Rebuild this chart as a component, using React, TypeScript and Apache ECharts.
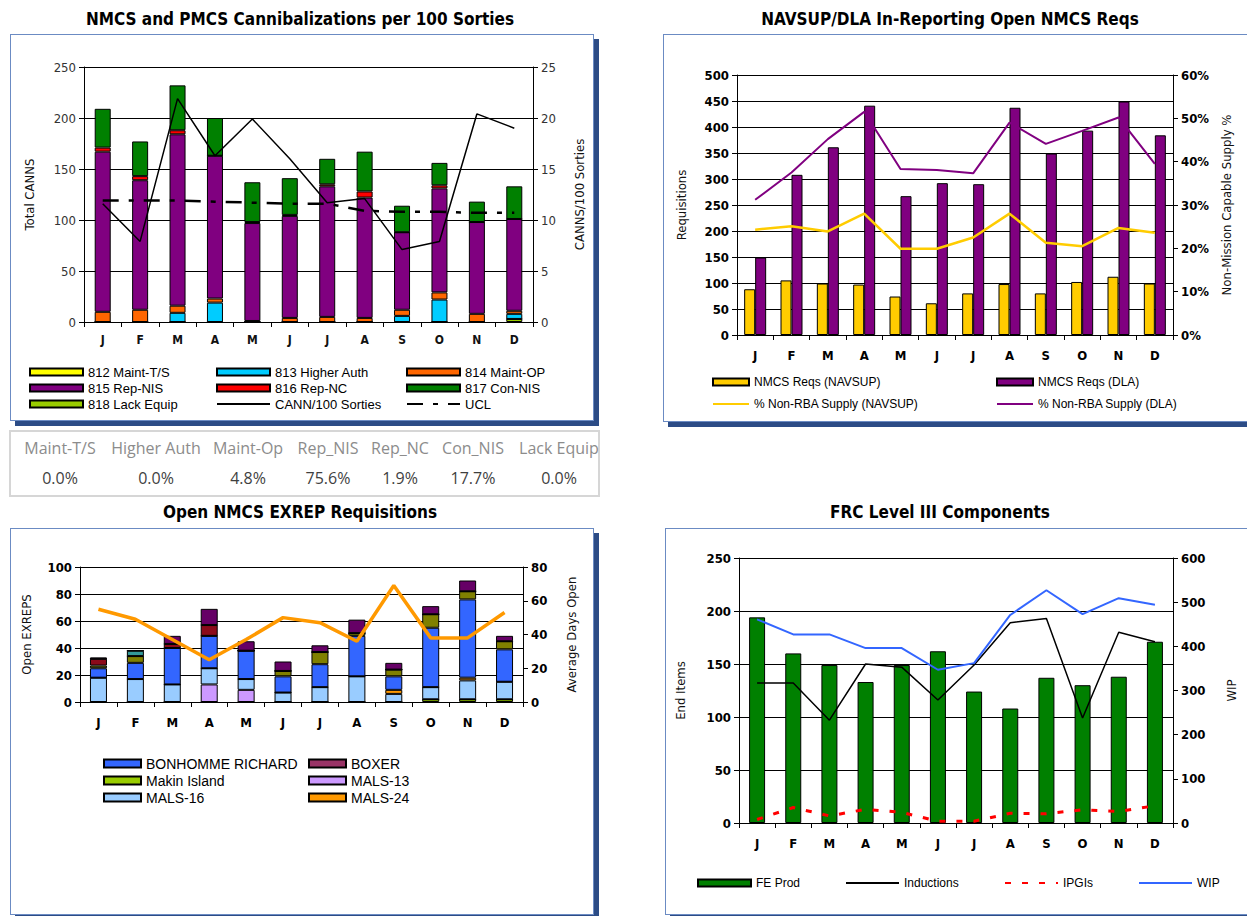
import React, { useEffect, useRef } from 'react';
import * as echarts from 'echarts';

// ---------- shared categories ----------
const months = ['Jan', 'Feb', 'Mar', 'Apr', 'May', 'Jun', 'Jul', 'Aug', 'Sep', 'Oct', 'Nov', 'Dec'];

// ---------- Chart 1: NMCS and PMCS Cannibalizations ----------
const c1LackEquip = [0, 0, 0, 0, 0, 0, 0, 0, 0, 0, 0, 3];
const c1MaintTS = [0, 0, 0, 0, 0, 0, 0, 0, 0, 0, 0, 0];
const c1HigherAuth = [0, 0, 9, 19, 0, 0, 0, 0, 6, 22, 0, 5];
const c1MaintOP = [10, 12, 7, 4, 1, 4, 5, 4, 6, 7, 8, 3];
const c1RepNIS = [157, 127, 168, 140, 96, 100, 128, 118, 76, 102, 90, 90];
const c1RepNC = [4, 4, 4, 0, 1, 1, 2, 6, 0, 3, 0, 0];
const c1ConNIS = [38, 34, 44, 37, 39, 36, 25, 39, 26, 22, 20, 32];
const c1Rate = [11.6, 7.9, 21.9, 16.3, 19.9, 16.0, 11.7, 12.1, 7.1, 7.9, 20.4, 19.0];
const c1UCL = [11.9, 11.9, 11.9, 11.8, 11.7, 11.6, 11.6, 10.9, 10.8, 10.8, 10.7, 10.7];

// ---------- summary table ----------
const tableHeaders = ['Maint-T/S', 'Higher Auth', 'Maint-Op', 'Rep_NIS', 'Rep_NC', 'Con_NIS', 'Lack Equip'];
const tableValues = ['0.0%', '0.0%', '4.8%', '75.6%', '1.9%', '17.7%', '0.0%'];

// ---------- Chart 2: NAVSUP/DLA ----------
const c2Navsup = [88, 105, 99, 97, 74, 61, 80, 98, 80, 102, 112, 99];
const c2Dla = [149, 308, 361, 441, 267, 292, 290, 437, 349, 393, 449, 384];
const c2PctNavsup = [24.3, 25.1, 23.9, 28.0, 19.9, 19.9, 22.5, 28.0, 21.3, 20.5, 24.7, 23.6];
const c2PctDla = [31.2, 37.5, 45.2, 51.5, 38.3, 38.1, 37.3, 49.0, 44.1, 47.1, 50.2, 39.5];

// ---------- Chart 3: Open NMCS EXREP ----------
const c3Makin = [0, 0, 0, 0, 0, 0, 0, 0, 0, 2, 2, 2];
const c3Mals13 = [0, 0, 0, 13, 9, 0, 0, 0, 0, 0, 0, 0];
const c3Mals16 = [18, 17, 13, 12, 8, 7, 11, 19, 6, 9, 14, 13];
const c3Mals24 = [0, 0, 0, 0, 0, 0, 0, 0, 3, 0, 2, 0];
const c3Bonhomme = [7, 12, 27, 24, 21, 12, 17, 30, 10, 44, 58, 24];
const c3Mals26 = [2, 5, 0, 0, 0, 4, 9, 2, 5, 10, 6, 6];
const c3Boxer = [5, 0, 3, 8, 0, 0, 0, 0, 0, 0, 0, 0];
const c3Mals29 = [0, 4, 0, 0, 0, 0, 0, 0, 0, 0, 0, 0];
const c3Mals31 = [1, 0, 6, 12, 7, 7, 5, 10, 5, 6, 8, 4];
const c3AvgDays = [55, 49, 37, 25, 37, 50, 47, 36, 69, 38, 38, 53];

// ---------- Chart 4: FRC Level III ----------
const c4FeProd = [194, 160, 149, 133, 149, 162, 124, 108, 137, 130, 138, 171];
const c4Inductions = [132, 132, 97, 150, 147, 116, 149, 189, 193, 99, 180, 171];
const c4Ipgis = [8, 35, 16, 31, 24, 4, 4, 22, 21, 30, 26, 39];
const c4Wip = [461, 427, 427, 396, 396, 347, 362, 471, 527, 473, 509, 494];

const FONT_T = "'DejaVu Sans Condensed', 'DejaVu Sans', sans-serif";
const FONT_A = "'Liberation Sans', Arial, sans-serif";

function catAxis(opts: any = {}) {
  return {
    type: 'category',
    data: months,
    boundaryGap: true,
    axisLine: { show: true, lineStyle: { color: '#000', width: 1 } },
    axisTick: { show: true, length: 5, lineStyle: { color: '#000' } },
    axisLabel: {
      formatter: (v: string) => v.charAt(0),
      fontSize: opts.fontSize ?? 13,
      fontWeight: 'bold',
      color: opts.color ?? '#000',
      fontFamily: FONT_T,
      margin: opts.margin ?? 12,
    },
  };
}

function valAxis(o: any) {
  return {
    type: 'value',
    min: o.min,
    max: o.max,
    interval: o.interval,
    name: o.name,
    nameLocation: 'middle',
    nameGap: o.nameGap,
    nameTextStyle: { fontFamily: FONT_T, fontSize: 13, color: o.nameColor ?? '#111' },
    axisLine: { show: true, lineStyle: { color: '#000', width: 1 } },
    axisTick: { show: true, length: 5, lineStyle: { color: '#000' } },
    axisLabel: {
      fontFamily: FONT_T,
      fontSize: 13,
      fontWeight: o.bold === false ? 'normal' : 'bold',
      color: o.labelColor ?? '#000',
      margin: o.margin ?? 8,
      formatter: o.formatter,
    },
    splitLine: { show: !!o.split, lineStyle: { color: '#000', width: 1 } },
  };
}

function stackBar(name: string, data: number[], color: string, stack: string, width: number) {
  return {
    type: 'bar',
    name,
    data,
    stack,
    barWidth: width,
    itemStyle: { color, borderColor: '#000', borderWidth: 1 },
  };
}

// legend entry for a line series: hide the marker dot, keep the line
function lineItem(name: string) {
  return { name, itemStyle: { opacity: 0 } };
}

function legendCol(left: number, top: number, items: any[], o: any) {
  return {
    orient: 'vertical',
    left,
    top,
    itemWidth: o.w,
    itemHeight: o.h,
    itemGap: o.gap,
    padding: 0,
    selectedMode: false,
    textStyle: { fontFamily: FONT_A, fontSize: o.fs, color: '#000', lineHeight: o.lh },
    data: items,
  };
}

function titleAt(text: string, left: number, top: number) {
  return {
    text,
    left,
    top,
    textAlign: 'center',
    padding: 0,
    textStyle: { fontFamily: FONT_T, fontSize: 17, fontWeight: 'bold', color: '#000' },
  };
}

// ---------------- Chart option builders ----------------
const opt1: any = {
  animation: false,
  title: titleAt('NMCS and PMCS Cannibalizations per 100 Sorties', 300, 10),
  grid: { left: 84, right: 67, top: 67, bottom: 103 },
  xAxis: catAxis({ fontSize: 12, margin: 12, color: '#111' }),
  yAxis: [
    valAxis({ min: 0, max: 250, interval: 50, name: 'Total CANNS', nameGap: 48, split: true, bold: false, labelColor: '#333' }),
    valAxis({ min: 0, max: 25, interval: 5, name: 'CANNS/100 Sorties', nameGap: 40, split: false, bold: false, labelColor: '#333' }),
  ],
  legend: [
    legendCol(29, 365, [
      { name: '812 Maint-T/S', icon: 'rect' },
      { name: '815 Rep-NIS', icon: 'rect' },
      { name: '818 Lack Equip', icon: 'rect' },
    ], { w: 53, h: 7, gap: 2, fs: 13, lh: 14 }),
    legendCol(216, 365, [
      { name: '813 Higher Auth', icon: 'rect' },
      { name: '816 Rep-NC', icon: 'rect' },
      lineItem('CANN/100 Sorties'),
    ], { w: 53, h: 7, gap: 2, fs: 13, lh: 14 }),
    legendCol(406, 365, [
      { name: '814 Maint-OP', icon: 'rect' },
      { name: '817 Con-NIS', icon: 'rect' },
      lineItem('UCL'),
    ], { w: 53, h: 7, gap: 2, fs: 13, lh: 14 }),
  ],
  series: [
    stackBar('818 Lack Equip', c1LackEquip, '#99CC00', 'c', 16),
    stackBar('812 Maint-T/S', c1MaintTS, '#FFFF00', 'c', 16),
    stackBar('813 Higher Auth', c1HigherAuth, '#00CCFF', 'c', 16),
    stackBar('814 Maint-OP', c1MaintOP, '#FF6600', 'c', 16),
    stackBar('815 Rep-NIS', c1RepNIS, '#800080', 'c', 16),
    stackBar('816 Rep-NC', c1RepNC, '#FF0000', 'c', 16),
    stackBar('817 Con-NIS', c1ConNIS, '#008000', 'c', 16),
    {
      type: 'line', name: 'CANN/100 Sorties', yAxisIndex: 1, data: c1Rate, symbol: 'none',
      lineStyle: { color: '#000', width: 1.5 }, itemStyle: { color: '#000' }, z: 5,
    },
    {
      type: 'line', name: 'UCL', yAxisIndex: 1, data: c1UCL, symbol: 'none',
      lineStyle: { color: '#000', width: 2.5, type: [16, 10, 5, 10] }, itemStyle: { color: '#000' }, z: 5,
    },
  ],
};

const opt2: any = {
  animation: false,
  title: titleAt('NAVSUP/DLA In-Reporting Open NMCS Reqs', 310, 10),
  grid: { left: 97, right: 74, top: 75, bottom: 90 },
  xAxis: catAxis({ fontSize: 13, margin: 14 }),
  yAxis: [
    valAxis({ min: 0, max: 500, interval: 50, name: 'Requisitions', nameGap: 49, split: true }),
    valAxis({ min: 0, max: 60, interval: 10, name: 'Non-Mission Capable Supply %', nameGap: 47, split: false, formatter: '{value}%' }),
  ],
  legend: [
    legendCol(72, 376, [
      { name: 'NMCS Reqs (NAVSUP)', icon: 'rect' },
      lineItem('% Non-RBA Supply (NAVSUP)'),
    ], { w: 36, h: 7, gap: 10, fs: 12, lh: 12 }),
    legendCol(356, 376, [
      { name: 'NMCS Reqs (DLA)', icon: 'rect' },
      lineItem('% Non-RBA Supply (DLA)'),
    ], { w: 36, h: 7, gap: 10, fs: 12, lh: 12 }),
  ],
  series: [
    {
      type: 'bar', name: 'NMCS Reqs (NAVSUP)', data: c2Navsup, barWidth: 11, barGap: '0%',
      itemStyle: { color: '#FFCC00', borderColor: '#000', borderWidth: 1 },
    },
    {
      type: 'bar', name: 'NMCS Reqs (DLA)', data: c2Dla, barWidth: 11, barGap: '0%',
      itemStyle: { color: '#800080', borderColor: '#000', borderWidth: 1 },
    },
    {
      type: 'line', name: '% Non-RBA Supply (NAVSUP)', yAxisIndex: 1, data: c2PctNavsup, symbol: 'none',
      lineStyle: { color: '#FFCC00', width: 2.5 }, itemStyle: { color: '#FFCC00' }, z: 5,
    },
    {
      type: 'line', name: '% Non-RBA Supply (DLA)', yAxisIndex: 1, data: c2PctDla, symbol: 'none',
      lineStyle: { color: '#800080', width: 2 }, itemStyle: { color: '#800080' }, z: 5,
    },
  ],
};

const opt3: any = {
  animation: false,
  title: titleAt('Open NMCS EXREP Requisitions', 300, 8),
  grid: { left: 80, right: 77, top: 72, bottom: 214 },
  xAxis: catAxis({ fontSize: 13, margin: 14 }),
  yAxis: [
    valAxis({ min: 0, max: 100, interval: 20, name: 'Open EXREPS', nameGap: 47, split: true }),
    valAxis({ min: 0, max: 80, interval: 20, name: 'Average Days Open', nameGap: 42, split: false }),
  ],
  legend: [
    legendCol(103, 261, [
      { name: 'BONHOMME RICHARD', icon: 'rect' },
      { name: 'Makin Island', icon: 'rect' },
      { name: 'MALS-16', icon: 'rect' },
    ], { w: 37, h: 8, gap: 2, fs: 14, lh: 15 }),
    legendCol(308, 261, [
      { name: 'BOXER', icon: 'rect', itemStyle: { color: '#993366' } },
      { name: 'MALS-13', icon: 'rect' },
      { name: 'MALS-24', icon: 'rect' },
    ], { w: 37, h: 8, gap: 2, fs: 14, lh: 15 }),
  ],
  series: [
    stackBar('Makin Island', c3Makin, '#99CC00', 'e', 17),
    stackBar('MALS-13', c3Mals13, '#CC99FF', 'e', 17),
    stackBar('MALS-16', c3Mals16, '#99CCFF', 'e', 17),
    stackBar('MALS-24', c3Mals24, '#FF9900', 'e', 17),
    stackBar('BONHOMME RICHARD', c3Bonhomme, '#3366FF', 'e', 17),
    stackBar('MALS-26', c3Mals26, '#808000', 'e', 17),
    stackBar('BOXER', c3Boxer, '#8B0A1A', 'e', 17),
    stackBar('MALS-29', c3Mals29, '#339999', 'e', 17),
    stackBar('MALS-31', c3Mals31, '#660066', 'e', 17),
    {
      type: 'line', name: 'Average Days Open', yAxisIndex: 1, data: c3AvgDays, symbol: 'none',
      lineStyle: { color: '#FF9900', width: 3.5 }, itemStyle: { color: '#FF9900' }, z: 5,
    },
  ],
};

const opt4: any = {
  animation: false,
  title: titleAt('FRC Level III Components', 300, 8),
  grid: { left: 99, right: 74, top: 63, bottom: 93 },
  xAxis: catAxis({ fontSize: 13, margin: 14 }),
  yAxis: [
    valAxis({ min: 0, max: 250, interval: 50, name: 'End Items', nameGap: 52, split: true }),
    valAxis({ min: 0, max: 600, interval: 100, name: 'WIP', nameGap: 52, split: false }),
  ],
  legend: [
    legendCol(57, 382, [{ name: 'FE Prod', icon: 'rect' }], { w: 53, h: 7, gap: 2, fs: 12, lh: 12 }),
    legendCol(205, 382, [lineItem('Inductions')], { w: 53, h: 7, gap: 2, fs: 12, lh: 12 }),
    legendCol(364, 382, [lineItem('IPGIs')], { w: 53, h: 7, gap: 2, fs: 12, lh: 12 }),
    legendCol(498, 382, [lineItem('WIP')], { w: 53, h: 7, gap: 2, fs: 12, lh: 12 }),
  ],
  series: [
    {
      type: 'bar', name: 'FE Prod', data: c4FeProd, barWidth: 16,
      itemStyle: { color: '#008000', borderColor: '#000', borderWidth: 1 },
    },
    {
      type: 'line', name: 'Inductions', data: c4Inductions, symbol: 'none',
      lineStyle: { color: '#000', width: 1.5 }, itemStyle: { color: '#000' }, z: 5,
    },
    {
      type: 'line', name: 'IPGIs', yAxisIndex: 1, data: c4Ipgis, symbol: 'none',
      lineStyle: { color: '#FF0000', width: 3, type: [6, 11] }, itemStyle: { color: '#FF0000' }, z: 5,
    },
    {
      type: 'line', name: 'WIP', yAxisIndex: 1, data: c4Wip, symbol: 'none',
      lineStyle: { color: '#3366FF', width: 2 }, itemStyle: { color: '#3366FF' }, z: 5,
    },
  ],
};

function EChart({ option, left, top, width, height }: any) {
  const ref = useRef<HTMLDivElement>(null);
  useEffect(() => {
    if (!ref.current) return;
    const chart = echarts.init(ref.current, null, { renderer: 'svg' });
    chart.setOption(option);
    return () => chart.dispose();
  }, [option]);
  return <div ref={ref} style={{ position: 'absolute', left, top, width, height }} />;
}

function box(left: number, top: number, width: number, height: number): React.CSSProperties {
  return {
    position: 'absolute',
    left,
    top,
    width,
    height,
    border: '1px solid #6B8BC3',
    boxShadow: '5px 5px 0 #2C4C86',
    boxSizing: 'border-box',
    background: '#fff',
  };
}

const headerCenters = [58, 154, 246, 326, 398, 471, 557];

export default function App() {
  return (
    <div style={{ position: 'absolute', left: 0, top: 0, width: 1247, height: 916, background: '#fff', overflow: 'hidden' }}>
      <div style={box(10, 34, 584, 387)} />
      <div style={box(663, 34, 620, 388)} />
      <div style={box(10, 528, 584, 387)} />
      <div style={box(665, 528, 620, 387)} />
      <div
        style={{
          position: 'absolute', left: 9, top: 430, width: 591, height: 67,
          border: '2px solid #D6D6D6', boxSizing: 'border-box', background: '#fff',
        }}
      >
        {tableHeaders.map((h, i) => (
          <div
            key={'h' + i}
            style={{
              position: 'absolute', left: headerCenters[i] - 9 - 60, top: 5, width: 120, textAlign: 'center',
              fontFamily: "'Open Sans', sans-serif", fontSize: 16, color: '#8C8C8C', whiteSpace: 'nowrap',
            }}
          >
            {h}
          </div>
        ))}
        {tableValues.map((v, i) => (
          <div
            key={'v' + i}
            style={{
              position: 'absolute', left: headerCenters[i] - 9 - 60, top: 35, width: 120, textAlign: 'center',
              fontFamily: "'Open Sans', sans-serif", fontSize: 16, color: '#3F3F3F', whiteSpace: 'nowrap',
            }}
          >
            {v}
          </div>
        ))}
      </div>
      <EChart option={opt1} left={0} top={0} width={600} height={425} />
      <EChart option={opt2} left={640} top={0} width={607} height={425} />
      <EChart option={opt3} left={0} top={495} width={600} height={421} />
      <EChart option={opt4} left={640} top={495} width={607} height={421} />
    </div>
  );
}
